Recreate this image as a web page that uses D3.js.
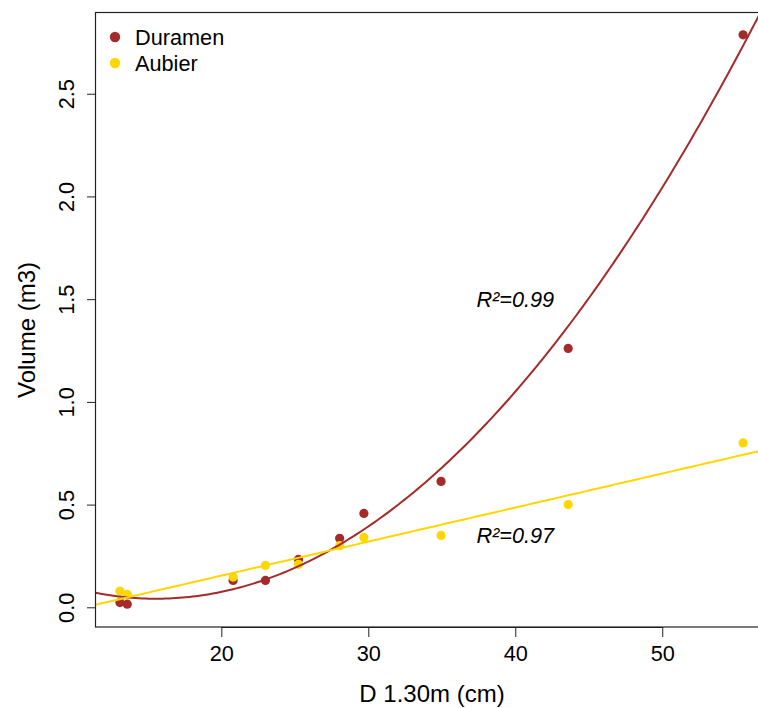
<!DOCTYPE html>
<html><head><meta charset="utf-8">
<script src="https://cdn.jsdelivr.net/npm/d3@7"></script>
<style>
html,body{margin:0;padding:0;background:#fff;}
svg{display:block;font-family:"Liberation Sans",Arial,Helvetica,sans-serif;}
</style></head>
<body>
<svg id="chart" width="758" height="708"></svg>
<script>
// Data
const diam = [13.1, 13.6, 20.8, 23.0, 25.25, 28.05, 29.7, 34.95, 43.6, 55.5];
const duramen = [0.023, 0.015, 0.131, 0.131, 0.233, 0.336, 0.457, 0.613, 1.26, 2.787];
const aubier = [0.079, 0.063, 0.147, 0.204, 0.209, 0.30, 0.34, 0.35, 0.50, 0.80];
const seriesNames = ["Duramen", "Aubier"];
const seriesColors = ["#A52A2A", "#FFD700"];
const xTicks = [20, 30, 40, 50];
const yTicks = [0.0, 0.5, 1.0, 1.5, 2.0, 2.5];
const r2Labels = ["R²=0.99", "R²=0.97"];
const r2Pos = [[40, 1.5], [40, 0.35]];

const svg = d3.select("#chart");
const L = 95, R = 768, T = 12, B = 627;

function extend(ext){ const r = ext[1]-ext[0]; return [ext[0]-0.04*r, ext[1]+0.04*r]; }
const x = d3.scaleLinear().domain(extend(d3.extent(diam))).range([L, R]);
const y = d3.scaleLinear().domain(extend(d3.extent(duramen.concat(aubier)))).range([B, T]);

// least squares polynomial fit
function polyfit(xs, ys, deg){
  const n = deg+1;
  const A = Array.from({length:n},()=>new Array(n+1).fill(0));
  for(let k=0;k<xs.length;k++){
    for(let i=0;i<n;i++){
      for(let j=0;j<n;j++) A[i][j]+=Math.pow(xs[k],i+j);
      A[i][n]+=ys[k]*Math.pow(xs[k],i);
    }
  }
  for(let i=0;i<n;i++){
    let p=i; for(let r=i+1;r<n;r++) if(Math.abs(A[r][i])>Math.abs(A[p][i])) p=r;
    [A[i],A[p]]=[A[p],A[i]];
    for(let r=0;r<n;r++){ if(r===i) continue; const f=A[r][i]/A[i][i]; for(let c=i;c<=n;c++) A[r][c]-=f*A[i][c]; }
  }
  return A.map((row,i)=>row[n]/row[i]);
}
const cDur = polyfit(diam, duramen, 2);
const cAub = polyfit(diam, aubier, 1);
const evalP = (c, v) => c.reduce((s, a, i) => s + a*Math.pow(v, i), 0);

svg.append("defs").append("clipPath").attr("id","clip")
  .append("rect").attr("x",L).attr("y",T).attr("width",R-L).attr("height",B-T);

const xs = d3.range(0, 201).map(i => x.domain()[0] + (x.domain()[1]-x.domain()[0])*i/200);
const line = d3.line().x(d=>x(d[0])).y(d=>y(d[1]));
const g = svg.append("g").attr("clip-path","url(#clip)");

// points
const pts = [duramen, aubier];
// draw Duramen points first then Aubier points, then lines
[0,1].forEach(s=>{
  g.selectAll(null).data(diam.map((d,i)=>[d, pts[s][i]])).enter().append("circle")
    .attr("cx",d=>x(d[0])).attr("cy",d=>y(d[1])).attr("r",4.6).attr("fill",seriesColors[s]);
});
g.append("path").attr("d", line(xs.map(v=>[v, evalP(cDur, v)])))
  .attr("fill","none").attr("stroke",seriesColors[0]).attr("stroke-width",2);
g.append("path").attr("d", line(xs.map(v=>[v, evalP(cAub, v)])))
  .attr("fill","none").attr("stroke",seriesColors[1]).attr("stroke-width",2);

// box
svg.append("rect").attr("x",L+0.5).attr("y",T+0.5).attr("width",R-L).attr("height",B-T-0.5)
  .attr("fill","none").attr("stroke","#222").attr("stroke-width",1.2);

// axes
const xAxis = d3.axisBottom(x).tickValues(xTicks).tickSize(10).tickPadding(9).tickFormat(d3.format("d"));
const gx = svg.append("g").attr("transform",`translate(0,${B})`).call(xAxis);
gx.select(".domain").attr("d", `M${x(xTicks[0])},0.5H${x(xTicks[xTicks.length-1])}`).attr("stroke","#222");
gx.selectAll(".tick line").attr("stroke","#222");
gx.selectAll("text").attr("font-size",21.7).attr("fill","#000").attr("font-family","Liberation Sans, Arial, sans-serif");

const yAxis = d3.axisLeft(y).tickValues(yTicks).tickSize(8).tickFormat(d3.format(".1f"));
const gy = svg.append("g").attr("transform",`translate(${L},0)`).call(yAxis);
gy.selectAll(".tick line").attr("stroke","#222");
gy.select(".domain").attr("d", `M0.5,${y(yTicks[0])}V${y(yTicks[yTicks.length-1])}`).attr("stroke","#222");
gy.selectAll(".tick text").attr("font-size",21.7).attr("fill","#000")
  .attr("font-family","Liberation Sans, Arial, sans-serif")
  .attr("x",0).attr("dy",0).attr("text-anchor","middle")
  .attr("transform","translate(-29,0) rotate(-90)")
  .attr("dominant-baseline","central");

// axis titles
svg.append("text").attr("x",432).attr("y",702).attr("text-anchor","middle")
  .attr("font-size",24).text("D 1.30m (cm)");
svg.append("text").attr("transform","translate(35,330) rotate(-90)").attr("text-anchor","middle")
  .attr("font-size",24).text("Volume (m3)");

// R2 labels
r2Labels.forEach((t,i)=>{
  svg.append("text").attr("x",x(r2Pos[i][0])).attr("y",y(r2Pos[i][1]))
    .attr("text-anchor","middle").attr("dominant-baseline","central")
    .attr("font-style","italic").attr("font-size",21.7).text(t);
});

// legend
seriesNames.forEach((n,i)=>{
  svg.append("circle").attr("cx",115).attr("cy",37+i*26).attr("r",5.2).attr("fill",seriesColors[i]);
  svg.append("text").attr("x",135).attr("y",37+i*26).attr("dominant-baseline","central")
    .attr("font-size",21.7).text(n);
});
</script>
</body></html>
